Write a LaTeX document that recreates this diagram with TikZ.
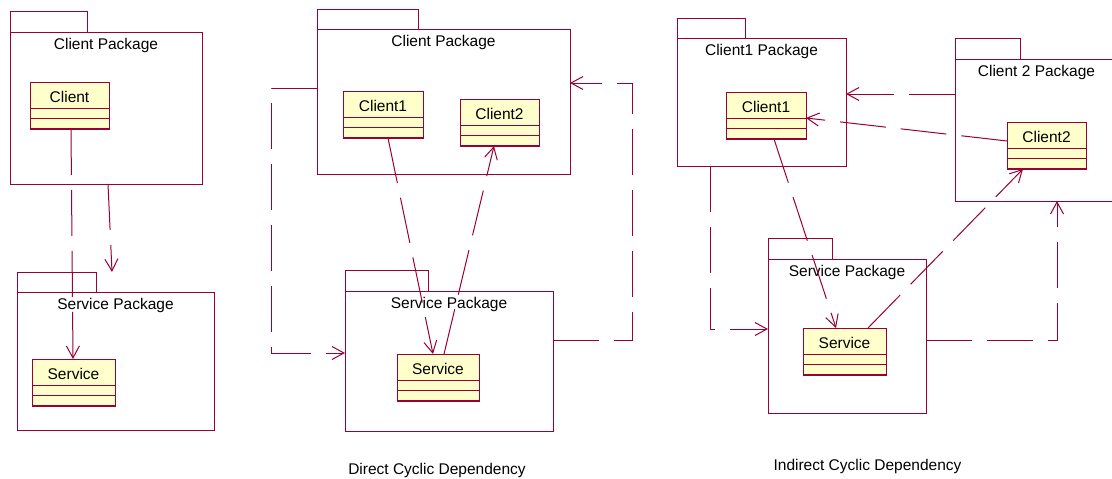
\documentclass[tikz,border=0pt]{standalone}
\usepackage{fontspec}
\setmainfont{Liberation Sans}
\usetikzlibrary{arrows.meta,calc}
\definecolor{umlline}{HTML}{990033}
\definecolor{umlfill}{HTML}{FFFFCC}

\tikzset{
  pkg/.style={draw=umlline, line width=0.9pt, anchor=north west, inner sep=0pt, outer sep=0pt},
  pkgtab/.style={draw=umlline, line width=0.9pt, anchor=south west, inner sep=0pt, outer sep=0pt},
  cls/.style={draw=umlline, fill=umlfill, line width=1pt, anchor=north west, inner sep=0pt, outer sep=0pt, minimum height=47pt},
  lbl/.style={font=\fontsize{15.5}{18}\selectfont, inner sep=0pt, anchor=base},
  divider/.style={draw=umlline, line width=0.8pt},
  dep/.style={draw=umlline, line width=1pt, dash pattern=on 46pt off 15pt,
    -{Straight Barb[length=12pt,width=13pt,line width=1pt]}},
}

% package: name, x, body top, tab width, tab height, body width, body height, title
\newcommand\umlpackage[8]{%
  \node[pkg, minimum width=#6pt, minimum height=#7pt] (#1) at (#2,#3) {};
  \node[pkgtab, minimum width=#4pt, minimum height=#5pt] (#1tab) at (#2,#3) {};
  \node[lbl] (#1name) at ([yshift=-17.5pt]#1.north) {#8};
}
% class: name, x, top, width, title
\newcommand\umlclass[5]{%
  \node[cls, minimum width=#4pt] (#1) at (#2,#3) {};
  \draw[divider] ([yshift=-26pt]#1.north west) -- ([yshift=-26pt]#1.north east);
  \draw[divider] ([yshift=-36pt]#1.north west) -- ([yshift=-36pt]#1.north east);
  \draw[umlline, line width=1.6pt] (#1.south west) -- (#1.south east);
  \node[lbl] (#1name) at ([yshift=-20pt]#1.north) {#5};
}

\begin{document}
\begin{tikzpicture}[x=1pt, y=-1pt]
\useasboundingbox (0,0) rectangle (1112,479);

% ---- single dependency ----
\umlpackage{cpA}{10}{32}{77}{21}{192}{152}{Client Package}
\umlpackage{spA}{17}{292}{79}{20}{197}{138}{Service Package}
\umlclass{clientA}{30}{82}{79}{Client}
\umlclass{serviceA}{32}{359}{83}{Service}
\draw[dep] ([xshift=1.5pt]clientA.south) -- ([xshift=-0.5pt]serviceA.north);
\draw[dep] ([xshift=2pt]cpA.south) -- ($(spAtab.north -| spA.north)+(-3.5,0)$);

% ---- direct cycle ----
\umlpackage{cpB}{317}{29}{101}{20}{253}{145}{Client Package}
\umlpackage{spB}{345}{291}{83}{21}{208}{140}{Service Package}
\umlclass{client1B}{343}{91}{80}{Client1}
\umlclass{client2B}{460}{99}{79}{Client2}
\umlclass{serviceB}{397}{354}{82}{Service}
\draw[dep] ([xshift=5pt]client1B.south) -- ([xshift=-5pt]serviceB.north);
\draw[dep] ([xshift=6pt]serviceB.north) -- ([xshift=-5.5pt]client2B.south);
\draw[dep] ([yshift=13.5pt]cpB.west) -- ++(-46,0) |- ([yshift=8pt]spB.west);
\draw[dep] ([yshift=21pt]spB.east) -- ++(79,0) |- ([yshift=18.5pt]cpB.east);
\node[lbl] (capDirect) at (437,474) {Direct Cyclic Dependency};

% ---- indirect cycle ----
\umlpackage{cpC}{677}{38}{68}{20}{169}{128}{Client1 Package}
\umlpackage{ctC}{955}{59}{65}{21}{163}{142}{Client 2 Package}
\umlpackage{spC}{768}{259}{64}{21}{158}{154}{Service Package}
\umlclass{client1C}{726}{92}{80}{Client1}
\umlclass{client2C}{1007}{122}{79}{Client2}
\umlclass{serviceC}{803}{328}{83}{Service}
\draw[dep] ([yshift=36pt]ctC.west) -- ([yshift=36pt]ctC.west -| cpC.east);
\draw[dep] ([yshift=4.5pt]client2C.west) -- ([yshift=-2.5pt]client1C.east);
\draw[dep] ([xshift=8pt]client1C.south) -- ([xshift=-8.5pt]serviceC.north);
\draw[dep] ([xshift=23.5pt]serviceC.north) -- ([xshift=-23.5pt]client2C.south);
\draw[dep] ([xshift=-51.5pt]cpC.south) |- ([yshift=7pt]spC.west);
\draw[dep] ([yshift=-4pt]spC.east) -| ([xshift=20.5pt]ctC.south);
\node[lbl] (capIndirect) at (867.5,470) {Indirect Cyclic Dependency};
\end{tikzpicture}
\end{document}
